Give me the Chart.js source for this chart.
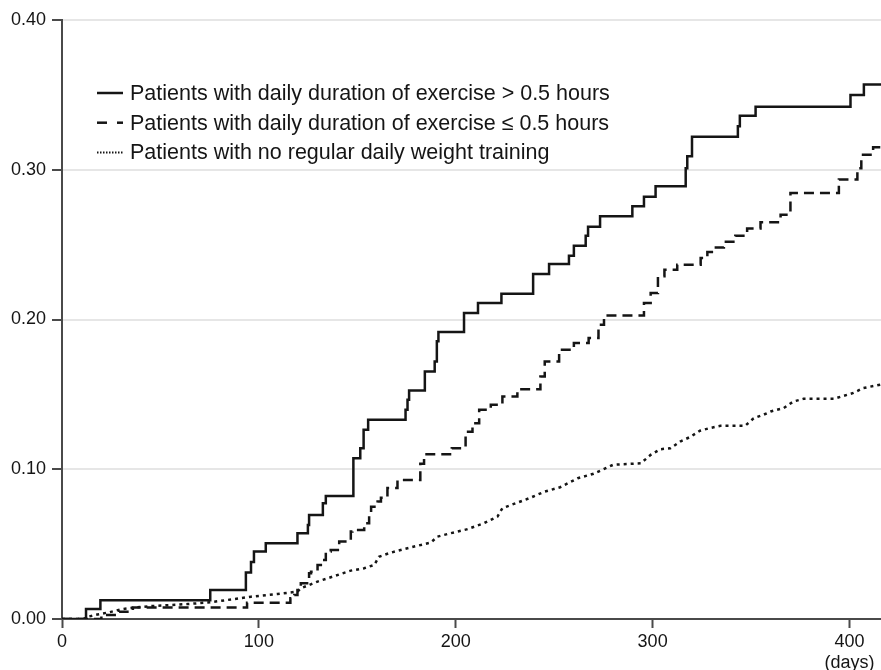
<!DOCTYPE html>
<html>
<head>
<meta charset="utf-8">
<script src="https://cdn.jsdelivr.net/npm/chart.js@4"></script>
<style>
  html, body { margin: 0; padding: 0; background: #fff; }
</style>
</head>
<body>
<canvas id="chartRisk" width="881" height="670"></canvas>
<script>
// ===== DATA =====
// daily exercise > 0.5 h (solid)
const longDays = [0, 12.2, 19.5, 75.3, 93.4, 96, 97.5, 103.5, 119.6, 124.9, 125.5, 132.5, 134,
    148, 151.5, 153.2, 155.5, 174.5, 175.5, 176.3, 184.3, 189.3, 190.4, 191.2, 204.2, 211.3,
    223.2, 239.3, 247.4, 257.5, 260, 266, 267.2, 273.3, 289.7, 295.6, 301.5, 316.8, 317.6,
    320, 343.3, 344.3, 352.3, 400.5, 407.3, 416];
const longRisk = [0, 0.0066, 0.0125, 0.0194, 0.031, 0.038, 0.045, 0.0506, 0.0573, 0.0628, 0.0695, 0.0773, 0.0822,
    0.1074, 0.114, 0.1263, 0.133, 0.1397, 0.1464, 0.1526, 0.1653, 0.172, 0.1854, 0.1916, 0.2043, 0.211,
    0.2172, 0.2304, 0.237, 0.2426, 0.2493, 0.256, 0.262, 0.269, 0.2756, 0.282, 0.289, 0.301, 0.309,
    0.322, 0.329, 0.336, 0.342, 0.350, 0.357, 0.357];

// daily exercise <= 0.5 h (dashed)
const shortDays = [0, 20, 29, 36, 94, 116, 118, 119.6, 121.3, 125.5, 126.5, 129.8, 132.3, 134, 136.5,
    140.8, 146.7, 147.5, 153.5, 156, 157, 160.3, 162, 165.3, 170.4, 182, 183.9, 198, 205, 208.5,
    211.9, 217.8, 223.7, 231.3, 243, 245.2, 252.5, 260, 267.5, 272.5, 275.3, 295.6, 299, 302.7,
    306, 312.5, 324.4, 327.8, 331, 336.2, 342, 348, 354.8, 365, 370, 394.6, 404, 406, 412, 416];
const shortRisk = [0, 0.0027, 0.0049, 0.0076, 0.0109, 0.0138, 0.016, 0.0194, 0.0238, 0.0305, 0.0316, 0.036, 0.0394, 0.045, 0.046,
    0.0517, 0.0584, 0.0595, 0.064, 0.0695, 0.075, 0.0784, 0.081, 0.0874, 0.0929, 0.1036, 0.110, 0.1141, 0.125, 0.1308,
    0.1397, 0.143, 0.1486, 0.1535, 0.162, 0.172, 0.1798, 0.1843, 0.1876, 0.1965, 0.2027, 0.211, 0.2177, 0.2288,
    0.2333, 0.2366, 0.241, 0.245, 0.248, 0.252, 0.256, 0.2607, 0.265, 0.270, 0.2845, 0.2935, 0.301, 0.310, 0.315, 0.315];

// no regular daily weight training (dotted)
const noneDays = [0, 11, 13, 18, 24, 30, 38, 46, 55, 64, 74, 84, 96, 109.5, 119.6, 121.3, 125.5, 129.8,
    134.9, 141.6, 146.7, 153.5, 158.6, 161, 167, 175.5, 187.3, 190.7, 197.5, 206, 214.4, 221.2,
    223.7, 231.3, 238, 245, 253, 262, 270, 280, 294, 299, 304, 309, 314, 319, 324, 329, 334.5,
    347, 351.3, 356.3, 360, 366.5, 371.6, 376.6, 392, 397, 402, 407, 416];
const noneRisk = [0, 0, 0.0015, 0.003, 0.0045, 0.0065, 0.0078, 0.0087, 0.0093, 0.0100, 0.0110, 0.0127, 0.0149, 0.0167, 0.0183, 0.0205, 0.0227, 0.025,
    0.0272, 0.0301, 0.0323, 0.0339, 0.0361, 0.0416, 0.0443, 0.0473, 0.051, 0.055, 0.0573, 0.06, 0.064, 0.0684,
    0.074, 0.0777, 0.081, 0.085, 0.088, 0.094, 0.097, 0.103, 0.104, 0.1096, 0.1134, 0.114, 0.1185, 0.1215, 0.1257, 0.1275, 0.129,
    0.129, 0.134, 0.1364, 0.1386, 0.1408, 0.1453, 0.147, 0.147, 0.149, 0.151, 0.1542, 0.1566];

const legendLabels = [
    "Patients with daily duration of exercise > 0.5 hours",
    "Patients with daily duration of exercise \u2264 0.5 hours",
    "Patients with no regular daily weight training"
];

const ink = "#151515";
const axisGray = "#4a4a4a";
const tickFont = { family: "'Liberation Sans', Arial, sans-serif", size: 18 };

function toPoints(days, risk) {
    return days.map((d, i) => ({ x: d, y: risk[i] }));
}

// legend drawn inside the plot, top-left
const legendStyles = [
    { dash: [], width: 2.5 },
    { dash: [10, 10], width: 2.5 },
    { dash: [1.5, 1.5], width: 2 }
];
const insideLegend = {
    id: "insideLegend",
    afterDraw(chart) {
        const ctx = chart.ctx;
        ctx.save();
        ctx.font = "21.5px 'Liberation Sans', Arial, sans-serif";
        ctx.textBaseline = "middle";
        legendLabels.forEach((label, i) => {
            const y = 93 + i * 29.7;
            ctx.beginPath();
            ctx.setLineDash(legendStyles[i].dash);
            ctx.lineWidth = legendStyles[i].width;
            ctx.strokeStyle = ink;
            ctx.moveTo(97, y);
            ctx.lineTo(123, y);
            ctx.stroke();
            ctx.setLineDash([]);
            ctx.fillStyle = ink;
            ctx.fillText(label, 130, y + 1);
        });
        ctx.restore();
    }
};

new Chart(document.getElementById("chartRisk"), {
    type: "line",
    data: {
        datasets: [
            {
                label: legendLabels[0],
                data: toPoints(longDays, longRisk),
                borderColor: ink,
                borderWidth: 2.5,
                stepped: "before"
            },
            {
                label: legendLabels[1],
                data: toPoints(shortDays, shortRisk),
                borderColor: ink,
                borderWidth: 2.5,
                borderDash: [10, 6],
                stepped: "before"
            },
            {
                label: legendLabels[2],
                data: toPoints(noneDays, noneRisk),
                borderColor: ink,
                borderWidth: 2.5,
                borderDash: [3, 4],
                tension: 0
            }
        ]
    },
    options: {
        responsive: false,
        animation: false,
        layout: { padding: { top: 20, right: 0, bottom: 0, left: 0 } },
        elements: { point: { radius: 0 } },
        plugins: {
            legend: { display: false },
            tooltip: { enabled: false }
        },
        scales: {
            x: {
                type: "linear",
                min: 0,
                max: 416,
                afterFit: s => { s.height = 51; },
                ticks: {
                    stepSize: 100,
                    includeBounds: false,
                    maxRotation: 0,
                    padding: 3,
                    color: ink,
                    font: tickFont,
                    callback: v => v === 400 ? ["400", "(days)"] : String(v)
                },
                grid: { drawOnChartArea: false, tickLength: 9, tickColor: axisGray, tickWidth: 2 },
                border: { color: axisGray, width: 2 }
            },
            y: {
                min: 0,
                max: 0.4,
                afterFit: s => { s.width = 62; },
                ticks: {
                    stepSize: 0.1,
                    padding: 6,
                    color: ink,
                    font: tickFont,
                    callback: v => v.toFixed(2)
                },
                grid: {
                    color: c => c.tick && c.tick.value === 0 ? "rgba(0,0,0,0)" : "#e6e6e6",
                    lineWidth: 2,
                    tickLength: 10,
                    tickColor: axisGray,
                    tickWidth: 2
                },
                border: { color: axisGray, width: 2 }
            }
        }
    },
    plugins: [insideLegend]
});
</script>
</body>
</html>
